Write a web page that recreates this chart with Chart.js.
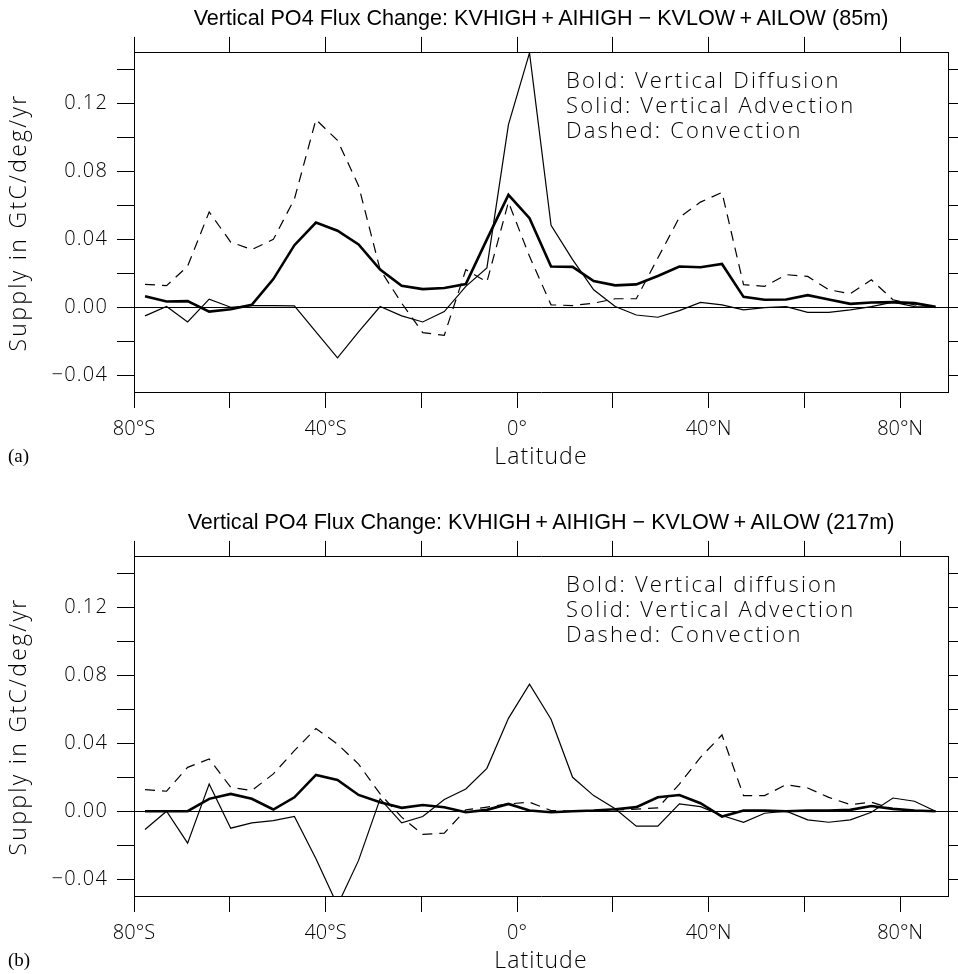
<!DOCTYPE html>
<html>
<head>
<meta charset="utf-8">
<title>Vertical PO4 Flux Change</title>
<script src="https://cdn.jsdelivr.net/npm/chart.js@4.4.1/dist/chart.umd.min.js"></script>
<style>
  html, body { margin: 0; padding: 0; background: #fff; }
  #page { position: relative; width: 958px; height: 974px; overflow: hidden; }
  .panel { position: absolute; left: 0; width: 958px; height: 470px; }
  .tag { position: absolute; left: 8px; font: 19px/19px "Liberation Serif", "Times New Roman", serif; color: #000; }
</style>
</head>
<body>
<div id="page">
  <div class="panel" style="top:0"><canvas id="chartA" width="958" height="470"></canvas></div>
  <div class="panel" style="top:504px"><canvas id="chartB" width="958" height="470"></canvas></div>
  <div class="tag" style="top:446px">(a)</div>
  <div class="tag" style="top:950px">(b)</div>
</div>
<script>
// latitude of each model row (deg, south negative)
const lats = [-77.7, -73.2, -68.8, -64.3, -59.8, -55.4, -50.9, -46.5, -42.0, -37.5,
  -33.1, -28.6, -24.1, -19.7, -15.2, -10.7, -6.3, -1.8, 2.6, 7.1,
  11.6, 16.0, 20.5, 24.9, 29.4, 33.9, 38.3, 42.8, 47.3, 51.7,
  56.2, 60.7, 65.1, 69.6, 74.0, 78.5, 83.0, 87.4];

// (a) 85m
const diffA = [0.0065, 0.0034, 0.0036, -0.0026, -0.0012, 0.0014, 0.0166, 0.0366, 0.0499, 0.0451,
  0.0370, 0.0222, 0.0127, 0.0107, 0.0113, 0.0137, 0.0400, 0.0663, 0.0525, 0.0240,
  0.0238, 0.0154, 0.0129, 0.0135, 0.0184, 0.0240, 0.0236, 0.0255, 0.0061, 0.0044,
  0.0046, 0.0071, 0.0046, 0.0020, 0.0028, 0.0030, 0.0024, 0.0002];
const advA = [-0.0051, 0.0004, -0.0087, 0.0048, 0.0000, 0.0010, 0.0010, 0.0008, -0.0145, -0.0299,
  -0.0145, 0.0004, -0.0051, -0.0087, -0.0026, 0.0123, 0.0232, 0.1077, 0.1500, 0.0483,
  0.0281, 0.0103, 0.0004, -0.0046, -0.0059, -0.0020, 0.0028, 0.0014, -0.0016, -0.0002,
  0.0004, -0.0030, -0.0030, -0.0016, 0.0004, 0.0030, 0.0004, 0.0002];
const convA = [0.0135, 0.0127, 0.0242, 0.0562, 0.0384, 0.0340, 0.0400, 0.0638, 0.1107, 0.0984,
  0.0717, 0.0222, 0.0024, -0.0150, -0.0166, 0.0222, 0.0149, 0.0620, 0.0300, 0.0014,
  0.0010, 0.0024, 0.0050, 0.0050, 0.0290, 0.0530, 0.0620, 0.0677, 0.0133, 0.0123,
  0.0192, 0.0182, 0.0103, 0.0080, 0.0162, 0.0044, 0.0014, 0.0002];

// (b) 217m
const diffB = [0.0000, 0.0000, 0.0000, 0.0073, 0.0102, 0.0073, 0.0010, 0.0082, 0.0214, 0.0184,
  0.0096, 0.0053, 0.0020, 0.0037, 0.0024, -0.0006, 0.0008, 0.0043, 0.0004, -0.0006,
  0.0000, 0.0004, 0.0012, 0.0024, 0.0082, 0.0096, 0.0047, -0.0031, 0.0004, 0.0004,
  0.0000, 0.0004, 0.0004, 0.0008, 0.0031, 0.0014, 0.0004, 0.0000];
const advB = [-0.0108, 0.0000, -0.0188, 0.0161, -0.0100, -0.0069, -0.0055, -0.0031, -0.0280, -0.0555,
  -0.0290, 0.0073, -0.0069, -0.0031, 0.0069, 0.0131, 0.0253, 0.0548, 0.0749, 0.0543,
  0.0200, 0.0092, 0.0014, -0.0088, -0.0088, 0.0043, 0.0027, -0.0025, -0.0065, -0.0012,
  0.0000, -0.0051, -0.0065, -0.0051, -0.0006, 0.0078, 0.0059, 0.0000];
const convB = [0.0127, 0.0118, 0.0259, 0.0308, 0.0141, 0.0122, 0.0220, 0.0357, 0.0488, 0.0396,
  0.0278, 0.0102, -0.0035, -0.0137, -0.0129, 0.0008, 0.0024, 0.0043, 0.0053, 0.0004,
  0.0000, 0.0004, 0.0008, 0.0012, 0.0020, 0.0160, 0.0318, 0.0450, 0.0092, 0.0092,
  0.0157, 0.0137, 0.0082, 0.0039, 0.0053, 0.0014, 0.0004, 0.0000];

const xTickValues = [-80, -60, -40, -20, 0, 20, 40, 60, 80];
const xTickLabels = ['80°S', '', '40°S', '', '0°', '', '40°N', '', '80°N'];
const yTickValues = [-0.04, -0.02, 0, 0.02, 0.04, 0.06, 0.08, 0.10, 0.12, 0.14];
const yTickLabels = ['\u22120.04', '', '0.00', '', '0.04', '', '0.08', '', '0.12', ''];

const titleA = 'Vertical PO4 Flux Change: KVHIGH\u2009+\u2009AIHIGH \u2212 KVLOW\u2009+\u2009AILOW (85m)';
const titleB = 'Vertical PO4 Flux Change: KVHIGH\u2009+\u2009AIHIGH \u2212 KVLOW\u2009+\u2009AILOW (217m)';
const notesA = ['Bold: Vertical Diffusion', 'Solid: Vertical Advection', 'Dashed: Convection'];
const notesB = ['Bold: Vertical diffusion', 'Solid: Vertical Advection', 'Dashed: Convection'];

Chart.defaults.color = '#000';
const thinFont = '"Open Sans", "DejaVu Sans", sans-serif';

// linear scale that can letter-space its title and tick labels (plot lettering is wide)
class SpacedLinearScale extends Chart.LinearScale {
  drawTitle() {
    this.ctx.save();
    this.ctx.letterSpacing = (this.options.title.spacing || 0) + 'px';
    super.drawTitle();
    this.ctx.restore();
  }
  drawLabels(chartArea) {
    this.ctx.save();
    this.ctx.letterSpacing = (this.options.ticks.spacing || 0) + 'px';
    super.drawLabels(chartArea);
    this.ctx.restore();
  }
}
SpacedLinearScale.id = 'spacedLinear';
SpacedLinearScale.defaults = Chart.LinearScale.defaults;
Chart.register(SpacedLinearScale);

// text block inside the plot area
const notesPlugin = {
  id: 'notes',
  afterDatasetsDraw(chart, args, opts) {
    const { ctx, chartArea } = chart;
    ctx.save();
    ctx.font = opts.font;
    ctx.letterSpacing = opts.spacing;
    ctx.fillStyle = '#000';
    ctx.textBaseline = 'alphabetic';
    opts.lines.forEach((line, i) => {
      ctx.fillText(line, chartArea.left + opts.dx, chartArea.top + opts.dy + i * opts.gap);
    });
    ctx.restore();
  }
};

const setTicks = (values) => (axis) => { axis.ticks = values.map(v => ({ value: v })); };

function makePanel(canvasId, titleText, diff, adv, conv, notes) {
  const series = (vals) => lats.map((lat, i) => ({ x: lat, y: vals[i] }));
  const tickFont = { family: thinFont, size: 20, weight: 300 };
  const axisTitleFont = { family: thinFont, size: 23, weight: 300, lineHeight: 1 };

  return new Chart(document.getElementById(canvasId), {
    type: 'line',
    data: {
      datasets: [
        { label: 'Vertical Diffusion', data: series(diff), borderColor: '#000', borderWidth: 2.6 },
        { label: 'Vertical Advection', data: series(adv), borderColor: '#000', borderWidth: 1.2 },
        { label: 'Convection', data: series(conv), borderColor: '#000', borderWidth: 1.2, borderDash: [10, 7] }
      ]
    },
    options: {
      responsive: false,
      animation: false,
      layout: { padding: 0 },
      elements: { point: { radius: 0 }, line: { tension: 0, fill: false } },
      plugins: {
        colors: { enabled: false },
        legend: { display: false },
        tooltip: { enabled: false },
        title: {
          display: true,
          fullSize: false,
          text: titleText,
          color: '#000',
          font: { family: '"Liberation Sans", Arial, sans-serif', size: 21.6, weight: 400, lineHeight: 1.2 },
          padding: { top: 6, bottom: 5 }
        },
        notes: { lines: notes, font: '300 22px ' + thinFont, spacing: '2.2px', dx: 432, dy: 35, gap: 25 }
      },
      scales: {
        x: {
          type: 'spacedLinear', position: 'bottom', min: -80, max: 90,
          afterBuildTicks: setTicks(xTickValues),
          afterFit: (axis) => { axis.height = 78; },
          ticks: { callback: (v, i) => xTickLabels[i], font: tickFont, padding: 9, maxRotation: 0, autoSkip: false },
          grid: { drawOnChartArea: false, tickLength: 16, color: '#000' },
          border: { color: '#000', width: 1 },
          title: { display: true, text: 'Latitude', font: axisTitleFont, spacing: 1.1, padding: { top: 0, bottom: 1 } }
        },
        x2: {
          type: 'linear', position: 'top', min: -80, max: 90,
          afterBuildTicks: setTicks(xTickValues),
          afterFit: (axis) => { axis.height = 16; },
          ticks: { display: false },
          grid: { drawOnChartArea: false, tickLength: 16, color: '#000' },
          border: { color: '#000', width: 1 }
        },
        y: {
          type: 'spacedLinear', position: 'left', min: -0.05, max: 0.15,
          afterBuildTicks: setTicks(yTickValues),
          afterFit: (axis) => { axis.width = 134; },
          ticks: { callback: (v, i) => yTickLabels[i], font: tickFont, spacing: 1.2, padding: 9, autoSkip: false },
          grid: {
            drawOnChartArea: true, tickLength: 17, tickColor: '#000',
            // only the zero line is drawn across the plot
            color: (c) => (c.tick && c.tick.value === 0 ? '#000' : 'rgba(0,0,0,0)')
          },
          border: { color: '#000', width: 1 },
          title: { display: true, text: 'Supply in GtC/deg/yr', font: axisTitleFont, spacing: 2.3, padding: { top: 8, bottom: 0 } }
        },
        y2: {
          type: 'linear', position: 'right', min: -0.05, max: 0.15,
          afterBuildTicks: setTicks(yTickValues),
          afterFit: (axis) => { axis.width = 10; },
          ticks: { display: false },
          grid: { drawOnChartArea: false, tickLength: 10, color: '#000' },
          border: { color: '#000', width: 1 }
        }
      }
    },
    plugins: [notesPlugin]
  });
}

makePanel('chartA', titleA, diffA, advA, convA, notesA);
makePanel('chartB', titleB, diffB, advB, convB, notesB);
</script>
</body>
</html>
